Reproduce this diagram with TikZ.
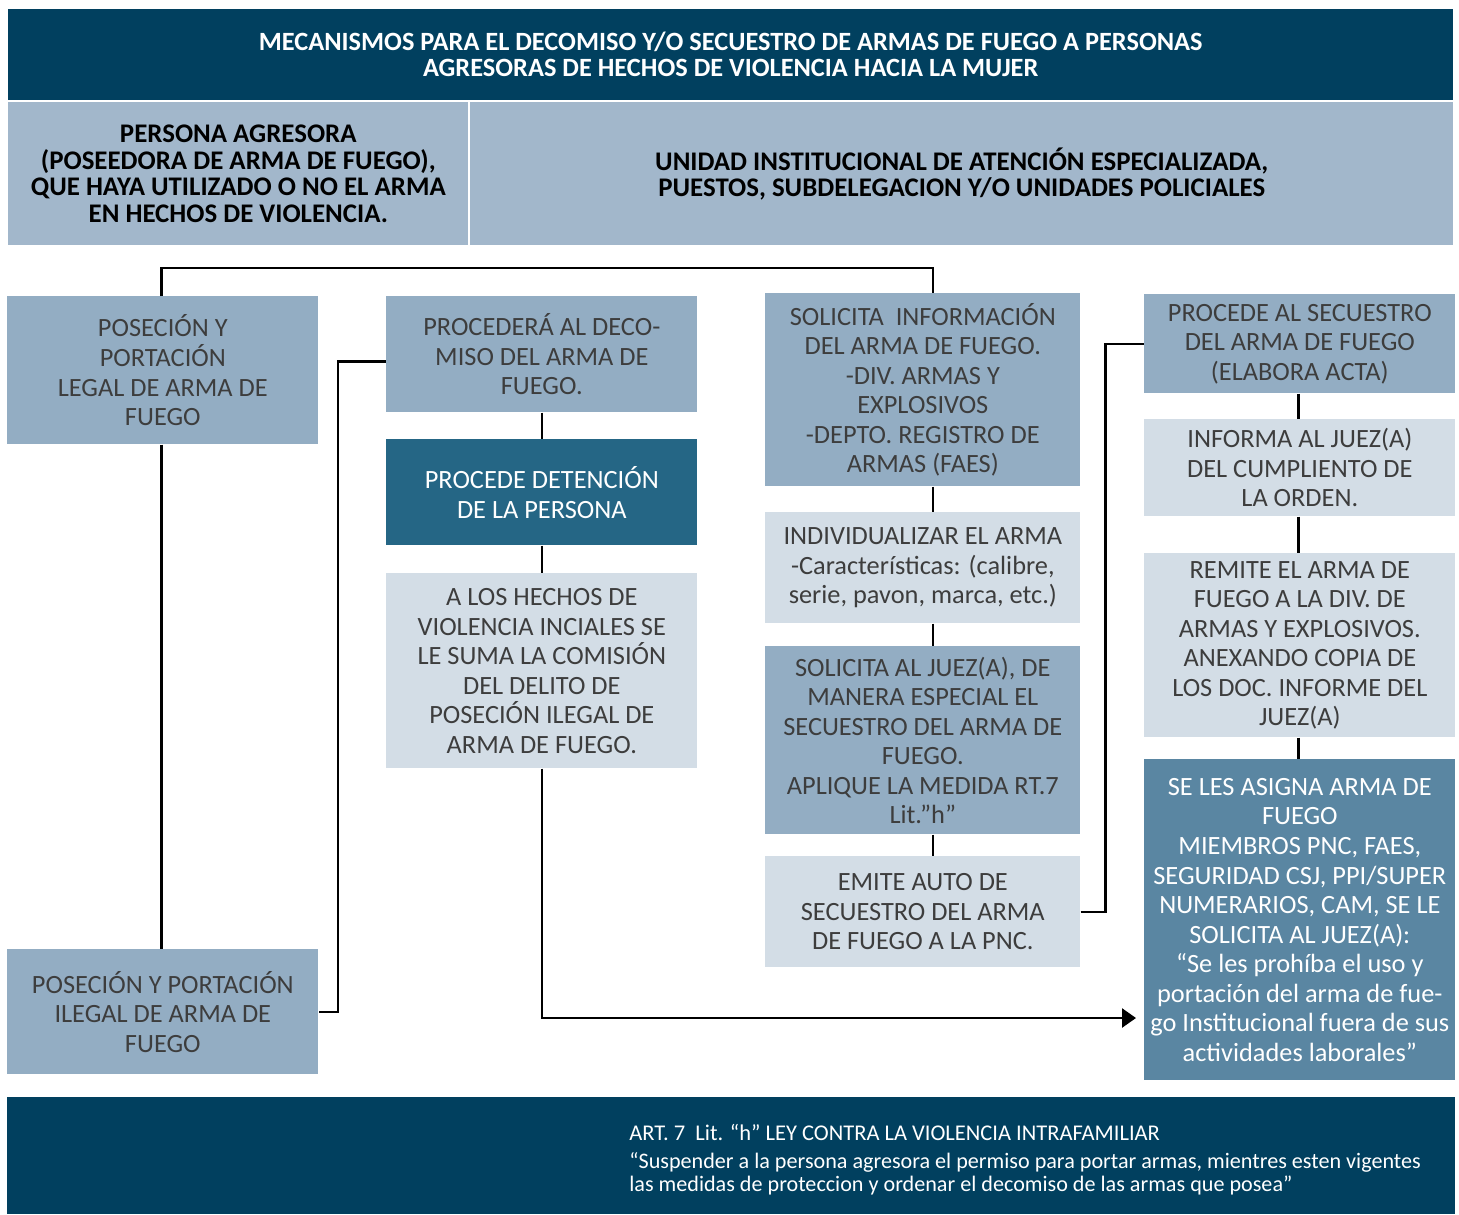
\documentclass[tikz,border=0pt]{standalone}
\usepackage{fontspec}
\setmainfont{Carlito}
\usetikzlibrary{arrows.meta,calc}
\definecolor{navy}{HTML}{01405F}
\definecolor{hdr}{HTML}{A2B7CB}
\definecolor{mid}{HTML}{93ADC3}
\definecolor{lite}{HTML}{D3DDE6}
\definecolor{teal}{HTML}{256685}
\definecolor{steel}{HTML}{5A86A2}
\definecolor{txt}{HTML}{3D3D3D}
\tikzset{
  base/.style={rectangle, inner sep=0pt, anchor=north west, align=center,
    font=\fontsize{15}{16.8}\selectfont},
  midbox/.style={base, fill=mid, text=txt},
  litebox/.style={base, fill=lite, text=txt},
  tealbox/.style={base, fill=teal, text=white},
  steelbox/.style={base, fill=steel, text=white},
  conn/.style={line width=1.4pt, black},
}
\begin{document}
\begin{tikzpicture}[x=0.02cm, y=-0.02cm]
\useasboundingbox (0,0) rectangle (1459,1214);
% title
\node[base, fill=navy, text=white, minimum width=28.9cm, minimum height=1.82cm,
  font=\fontsize{15}{14.8}\selectfont\bfseries] (title) at (8,9)
  {MECANISMOS PARA EL DECOMISO Y/O SECUESTRO DE ARMAS DE FUEGO A PERSONAS\\AGRESORAS DE HECHOS DE VIOLENCIA HACIA LA MUJER};
\node[base, fill=hdr, text=black, minimum width=9.2cm, minimum height=2.86cm,
  font=\fontsize{15.3}{15.1}\selectfont\bfseries] (hleft) at (8,102)
  {PERSONA AGRESORA\\(POSEEDORA DE ARMA DE FUEGO),\\QUE HAYA UTILIZADO O NO EL ARMA\\EN HECHOS DE VIOLENCIA.};
\node[base, fill=hdr, text=black, minimum width=19.66cm, minimum height=2.86cm,
  font=\fontsize{15.3}{15.1}\selectfont\bfseries] (hright) at (470,102)
  {UNIDAD INSTITUCIONAL DE ATENCIÓN ESPECIALIZADA,\\PUESTOS, SUBDELEGACION Y/O UNIDADES POLICIALES};
% column 1
\node[midbox, minimum width=6.22cm, minimum height=2.96cm] (A) at (7,296)
  {POSECIÓN Y\\PORTACIÓN\\LEGAL DE ARMA DE\\FUEGO};
\node[midbox, minimum width=6.22cm, minimum height=2.5cm] (M) at (7,949)
  {POSECIÓN Y PORTACIÓN\\ILEGAL DE ARMA DE\\FUEGO};
% column 2
\node[midbox, minimum width=6.22cm, minimum height=2.32cm] (B) at (386,296)
  {PROCEDERÁ AL DECO-\\MISO DEL ARMA DE\\FUEGO.};
\node[tealbox, minimum width=6.22cm, minimum height=2.12cm] (C) at (386,439)
  {PROCEDE DETENCIÓN\\DE LA PERSONA};
\node[litebox, minimum width=6.22cm, minimum height=3.9cm] (D) at (386,573)
  {A LOS HECHOS DE\\VIOLENCIA INCIALES SE\\LE SUMA LA COMISIÓN\\DEL DELITO DE\\POSECIÓN ILEGAL DE\\ARMA DE FUEGO.};
% column 3
\node[midbox, minimum width=6.3cm, minimum height=3.86cm] (E) at (765,293)
  {SOLICITA\ \ INFORMACIÓN\\DEL ARMA DE FUEGO.\\-DIV. ARMAS Y\\EXPLOSIVOS\\-DEPTO. REGISTRO DE\\ARMAS (FAES)};
\node[litebox, minimum width=6.3cm, minimum height=2.22cm] (F) at (765,512)
  {INDIVIDUALIZAR EL ARMA\\-Características: (calibre,\\serie, pavon, marca, etc.)};
\node[midbox, minimum width=6.3cm, minimum height=3.76cm] (G) at (765,646)
  {SOLICITA AL JUEZ(A), DE\\MANERA ESPECIAL EL\\SECUESTRO DEL ARMA DE\\FUEGO.\\APLIQUE LA MEDIDA RT.7\\Lit.”h”};
\node[litebox, minimum width=6.3cm, minimum height=2.22cm] (H) at (765,856)
  {EMITE AUTO DE\\SECUESTRO DEL ARMA\\DE FUEGO A LA PNC.};
% column 4
\node[midbox, minimum width=6.22cm, minimum height=1.98cm] (I) at (1144,294)
  {PROCEDE AL SECUESTRO\\DEL ARMA DE FUEGO\\(ELABORA ACTA)};
\node[litebox, minimum width=6.22cm, minimum height=1.94cm] (J) at (1144,419)
  {INFORMA AL JUEZ(A)\\DEL CUMPLIENTO DE\\LA ORDEN.};
\node[litebox, minimum width=6.22cm, minimum height=3.68cm] (K) at (1144,553)
  {REMITE EL ARMA DE\\FUEGO A LA DIV. DE\\ARMAS Y EXPLOSIVOS.\\ANEXANDO COPIA DE\\LOS DOC. INFORME DEL\\JUEZ(A)};
\node[steelbox, minimum width=6.22cm, minimum height=6.42cm] (L) at (1144,759)
  {SE LES ASIGNA ARMA DE\\FUEGO\\MIEMBROS PNC, FAES,\\SEGURIDAD CSJ, PPI/SUPER\\NUMERARIOS, CAM, SE LE\\SOLICITA AL JUEZ(A):\\“Se les prohíba el uso y\\portación del arma de fue-\\go Institucional fuera de sus\\actividades laborales”};
% footer
\node[base, fill=navy, minimum width=28.96cm, minimum height=2.34cm] (foot) at (7,1097) {};
\node[anchor=west, inner sep=0pt, text=white, font=\fontsize{12.8}{13}\selectfont] (f1) at (629,1132)
  {ART. 7\ \ Lit. “h” LEY CONTRA LA VIOLENCIA INTRAFAMILIAR};
\node[anchor=west, inner sep=0pt, text=white, align=left, font=\fontsize{12.6}{13}\selectfont] (f2) at (629,1174)
  {“Suspender a la persona agresora el permiso para portar armas, mientres esten vigentes\\las medidas de proteccion y ordenar el decomiso de las armas que posea”};
% connectors
\coordinate (arrEnd) at (1136,1018);
\draw[conn] ([xshift=-0.03cm]A.north) -- ++(0,-28) -| ([xshift=0.2cm]E.north);
\draw[conn] ([xshift=-0.03cm]A.south) -- ([xshift=-0.03cm]M.north);
\draw[conn] ([yshift=-0.14cm]B.west) -- ++(-48,0) |- (M.east);
\draw[conn] (B.south) -- (C.north);
\draw[conn] (C.south) -- (D.north);
\draw[conn, -{Triangle[length=0.28cm,width=0.38cm]}] (D.south) |- (arrEnd);
\draw[conn] ([xshift=0.2cm]E.south) -- ([xshift=0.2cm]F.north);
\draw[conn] ([xshift=0.2cm]F.south) -- ([xshift=0.2cm]G.north);
\draw[conn] ([xshift=0.2cm]G.south) -- ([xshift=0.2cm]H.north);
\draw[conn] (H.east) -- ++(25,0) |- (I.west);
\draw[conn] ([xshift=-0.03cm]I.south) -- ([xshift=-0.03cm]J.north);
\draw[conn] ([xshift=-0.03cm]J.south) -- ([xshift=-0.03cm]K.north);
\draw[conn] ([xshift=-0.03cm]K.south) -- ([xshift=-0.03cm]L.north);
\end{tikzpicture}
\end{document}
